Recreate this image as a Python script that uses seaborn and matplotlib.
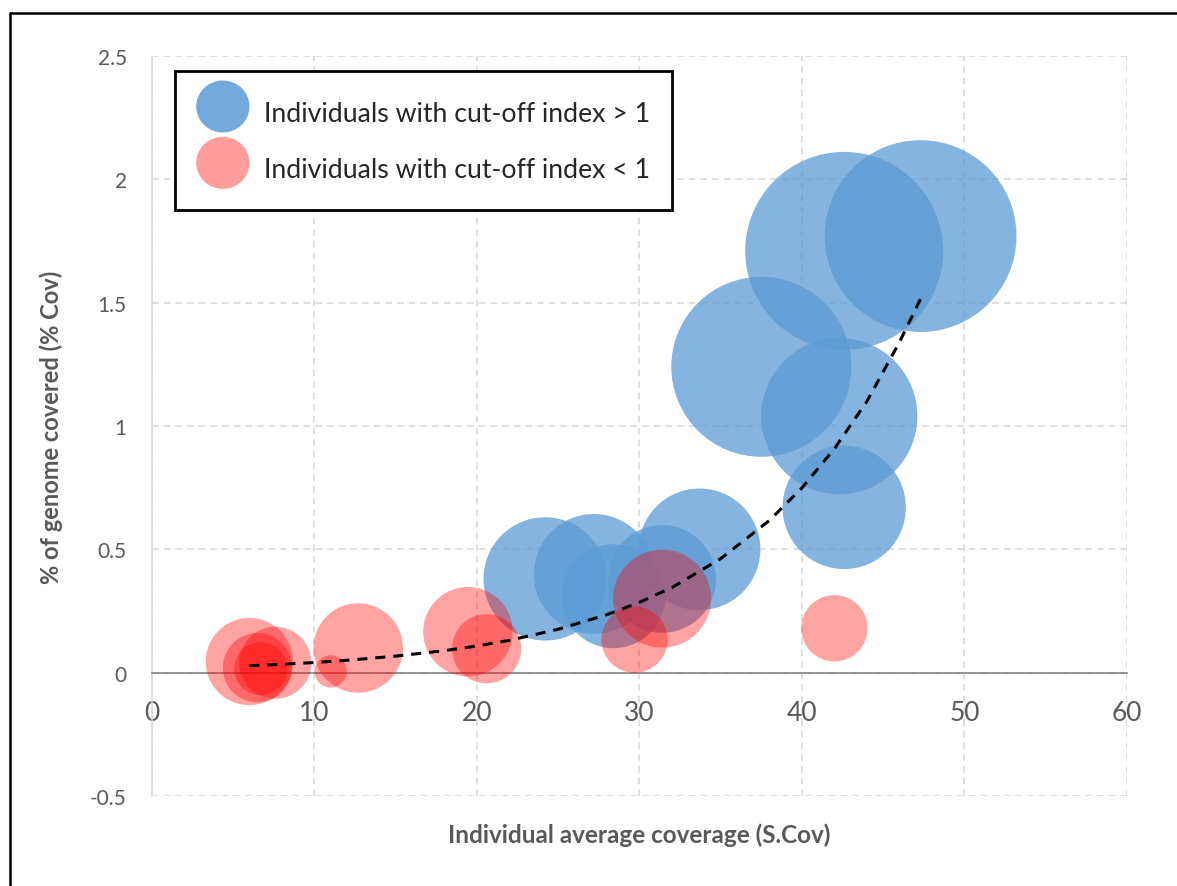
import matplotlib
matplotlib.use("Agg")
import matplotlib.pyplot as plt
import matplotlib.patches as mpatches
from matplotlib.lines import Line2D
from matplotlib.legend_handler import HandlerPatch
import seaborn as sns
import pandas as pd

# individuals with cut-off index > 1
blue_x = [42.6, 47.3, 37.5, 42.3, 42.6, 33.7, 24.2, 27.2, 28.4, 31.4]
blue_y = [1.71, 1.77, 1.24, 1.04, 0.67, 0.50, 0.38, 0.40, 0.31, 0.38]
blue_size = [98, 92, 81, 61, 38, 37, 38, 36, 27, 29]

# individuals with cut-off index < 1
red_x = [31.4, 29.7, 42.0, 19.45, 20.6, 12.7, 11.0, 6.0, 7.6, 6.5, 6.7]
red_y = [0.30, 0.134, 0.18, 0.166, 0.097, 0.10, 0.005, 0.045, 0.04, 0.02, 0.016]
red_size = [24, 11, 11, 20, 12, 20, 2.6, 19, 13, 12, 7]

# exponential trendline
trend_x = [6, 8, 10, 12, 15, 18, 20, 22, 25, 28, 30, 32, 35, 38, 40, 42, 44, 46, 47.3]
trend_y = [0.028, 0.034, 0.041, 0.050, 0.067, 0.089, 0.108, 0.131, 0.176, 0.235,
           0.285, 0.345, 0.462, 0.617, 0.749, 0.908, 1.10, 1.34, 1.515]

x_ticks = [0, 10, 20, 30, 40, 50, 60]
y_ticks = [-0.5, 0, 0.5, 1, 1.5, 2, 2.5]
y_labels = ["-0.5", "0", "0.5", "1", "1.5", "2", "2.5"]

labels = ["Individuals with cut-off index > 1", "Individuals with cut-off index < 1"]
blue = "#5B9BD5"
red = "#FF0000"
grey = "#595959"

sns.set_theme(style="white")
plt.rcParams["font.family"] = ["Lato", "DejaVu Sans"]

blue_df = pd.DataFrame({"x": blue_x, "y": blue_y, "s": blue_size})
red_df = pd.DataFrame({"x": red_x, "y": red_y, "s": red_size})
trend_df = pd.DataFrame({"x": trend_x, "y": trend_y})

fig = plt.figure(figsize=(11.77, 8.87), dpi=100)
ax = fig.add_axes([0.129, 0.1015, 0.8285, 0.8342])

smax = 98
size_norm = (0, smax)
sizes = (0, 207.36 * smax)  # area proportional bubbles

sns.scatterplot(data=blue_df, x="x", y="y", size="s", sizes=sizes, size_norm=size_norm,
                color=blue, alpha=0.75, linewidth=0, legend=False, ax=ax, zorder=3)
sns.scatterplot(data=red_df, x="x", y="y", size="s", sizes=sizes, size_norm=size_norm,
                color=red, alpha=0.36, linewidth=0, legend=False, ax=ax, zorder=4)
sns.lineplot(data=trend_df, x="x", y="y", color="black", linewidth=2.2,
             linestyle=(0, (3.3, 2.6)), ax=ax, zorder=5)

ax.set_xlim(0, 60)
ax.set_ylim(-0.5, 2.5)
ax.set_xticks(x_ticks)
ax.set_yticks(y_ticks)
ax.set_yticklabels(y_labels)
ax.grid(True, color="#D9D9D9", linestyle=(0, (4, 3)), linewidth=1.2, zorder=0)
ax.set_axisbelow(True)

for side in ["top", "right"]:
    ax.spines[side].set_visible(False)
ax.spines["left"].set_color("#D9D9D9")
ax.spines["left"].set_linewidth(1.2)
ax.spines["bottom"].set_position(("data", 0))
ax.spines["bottom"].set_color("#868686")
ax.spines["bottom"].set_linewidth(1.2)
ax.tick_params(axis="x", length=0, pad=20, labelsize=19, labelcolor=grey)
ax.tick_params(axis="y", length=0, pad=18, labelsize=15, labelcolor=grey)

ax.set_xlabel("Individual average coverage (S.Cov)", fontsize=17.5, fontweight="bold", color=grey)
ax.xaxis.set_label_coords(0.5, -0.036)
ax.set_ylabel("% of genome covered (% Cov)", fontsize=17, fontweight="bold", color=grey)
ax.yaxis.set_label_coords(-0.091, 0.5)


class HandlerEllipse(HandlerPatch):
    def create_artists(self, legend, orig_handle, xdescent, ydescent, width, height, fontsize, trans):
        center = 0.5 * width - 0.5 * xdescent, 0.5 * height - 0.5 * ydescent
        p = mpatches.Ellipse(xy=center, width=width + xdescent, height=height + ydescent)
        self.update_prop(p, orig_handle, legend)
        p.set_transform(trans)
        return [p]


handles = [mpatches.Ellipse((0, 0), 1, 1, facecolor=blue, alpha=0.85, linewidth=0),
           mpatches.Ellipse((0, 0), 1, 1, facecolor="#FF5A5A", alpha=0.6, linewidth=0)]
leg = ax.legend(handles, labels, loc="upper left", bbox_to_anchor=(0.0236, 0.98),
                borderaxespad=0, fontsize=19.2, frameon=True, fancybox=False,
                handlelength=2.0, handleheight=1.95, handletextpad=0.55,
                labelspacing=0.6, borderpad=0.8,
                handler_map={mpatches.Ellipse: HandlerEllipse()})
leg.get_frame().set_edgecolor("black")
leg.get_frame().set_linewidth(2)
leg.get_frame().set_alpha(1)
leg.set_zorder(10)

# outer chart frame (only top and left edges are inside the image)
fig.add_artist(Line2D([10 / 1177, 1], [1 - 14 / 887, 1 - 14 / 887], color="black", linewidth=1.8))
fig.add_artist(Line2D([10 / 1177, 10 / 1177], [0, 1 - 14 / 887], color="black", linewidth=1.8))

fig.savefig("out.png", dpi=100)
